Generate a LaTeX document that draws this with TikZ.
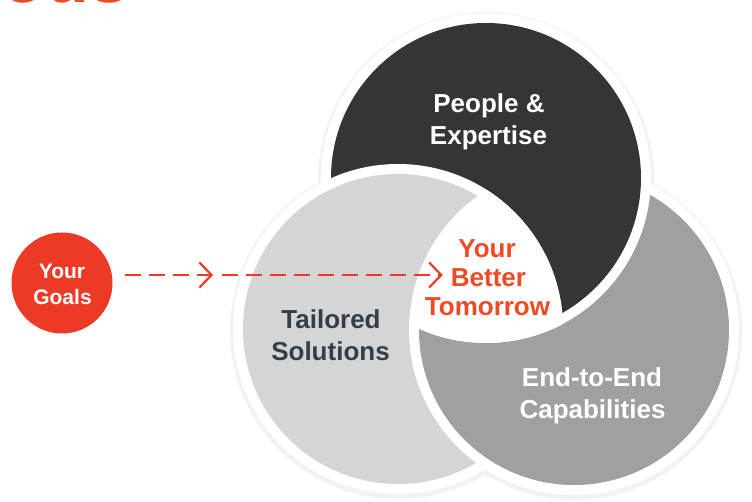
\documentclass[tikz,border=0pt]{standalone}
\usepackage{fontspec}
\setmainfont{Liberation Sans}
\usetikzlibrary{arrows.meta}
\definecolor{darkc}{HTML}{353535}
\definecolor{lightc}{HTML}{D5D5D5}
\definecolor{medc}{HTML}{A0A0A0}
\definecolor{redc}{HTML}{EC3A27}
\definecolor{orangec}{HTML}{F04A23}
\definecolor{slatec}{HTML}{333E48}
\begin{document}
\begin{tikzpicture}[x=1pt,y=-1pt,
  lbl/.style={font=\bfseries\fontsize{26}{31}\selectfont, inner sep=0pt, anchor=base},
  glbl/.style={font=\bfseries\fontsize{21}{26}\selectfont, inner sep=0pt, anchor=base, text=white},
  halo/.style={fill=black!5},
  ring/.style={fill=white},
  arr/.style={draw=redc, line width=2.2pt, dash pattern=on 16pt off 8pt,
    -{Straight Barb[length=12pt,width=25pt]}}]
\useasboundingbox (0,0) rectangle (752,502);
\fill[white] (0,0) rectangle (752,502);
% cut-off heading at the top
\node[font=\bfseries\fontsize{72}{80}\selectfont, text=orangec, inner sep=0pt, anchor=base west] (head) at (1,2.5) {ous};
% circle centres
\coordinate (cD) at (486,178);
\coordinate (cL) at (398,329);
\coordinate (cM) at (574,330);
% soft halos
\fill[halo] (cD) ++(0,2) circle[radius=168pt];
\fill[halo] (cL) ++(0,2) circle[radius=168pt];
\fill[halo] (cM) ++(0,2) circle[radius=168pt];
% medium circle
\fill[ring] (cM) circle[radius=165pt];
\fill[medc] (cM) circle[radius=155pt];
% dark circle
\fill[ring] (cD) circle[radius=165pt];
\fill[darkc] (cD) circle[radius=155pt];
% light circle
\fill[ring] (cL) circle[radius=165pt];
\fill[lightc] (cL) circle[radius=155pt];
% medium again, above light, below dark
\begin{scope}[even odd rule]
  \clip (0,0) rectangle (752,502) (cD) circle[radius=165pt];
  \fill[ring] (cM) circle[radius=165pt];
  \fill[medc] (cM) circle[radius=155pt];
\end{scope}
% white centre
\begin{scope}
  \clip (cD) circle[radius=165pt];
  \clip (cL) circle[radius=165pt];
  \fill[white] (cM) circle[radius=165pt];
\end{scope}
% labels
\node[lbl, text=white] (pe1) at (489,113) {People \&};
\node[lbl, text=white] (pe2) at (488.5,145) {Expertise};
\node[lbl, text=slatec] (ts1) at (331,329) {Tailored};
\node[lbl, text=slatec] (ts2) at (330.5,361) {Solutions};
\node[lbl, text=white] (ec1) at (592,386) {End-to-End};
\node[lbl, text=white] (ec2) at (592.5,418) {Capabilities};
\node[lbl, text=orangec] (yb1) at (487,258) {Your};
\node[lbl, text=orangec] (better) at (488.5,287) {Better};
\node[lbl, text=orangec] (yb3) at (487.5,316) {Tomorrow};
% goals
\node[circle, fill=redc, minimum size=101pt, inner sep=0pt] (goals) at (62,283) {};
\node[glbl] (yg1) at (62,279) {Your};
\node[glbl] (yg2) at (62.5,305) {Goals};
% arrows
\coordinate (a1e) at (213,275);
\coordinate (a2s) at (222,275);
\draw[arr, shorten <=12pt] (goals.east |- a1e) -- (a1e);
\draw[arr, shorten >=8pt] (a2s) -- (a2s -| better.west);
\end{tikzpicture}
\end{document}
